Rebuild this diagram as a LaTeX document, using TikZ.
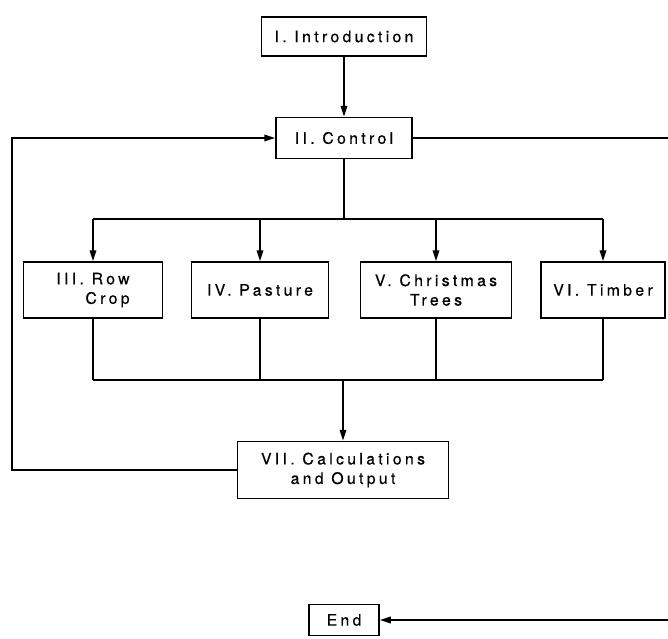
\documentclass[tikz,border=0pt]{standalone}
\usepackage{fontspec}
\setmainfont{TeX Gyre Heros}[LetterSpace=21,FakeBold=0.5]
\usetikzlibrary{arrows.meta}
\begin{document}
\begin{tikzpicture}[x=1pt,y=1pt,
  box/.style={draw,line width=1.5pt,inner sep=0pt,font=\fontsize{15.8}{19.5}\selectfont,align=center},
  conn/.style={line width=2pt},
  arr/.style={conn,-{Triangle[length=11pt,width=6.5pt]}}]
\useasboundingbox (0,0) rectangle (668,-638);
\node[box,minimum width=165pt,minimum height=39pt] (intro) at (344,-36.5) {I. Introduction};
\node[box,minimum width=136pt,minimum height=41pt] (ctrl) at (344,-138) {II. Control};
\node[box,minimum width=139pt,minimum height=56pt,align=right] (row) at (93,-290) {III. Row\\Crop};
\node[box,minimum width=137pt,minimum height=56pt] (past) at (260,-290) {IV. Pasture};
\node[box,minimum width=151pt,minimum height=56pt] (xmas) at (436,-290) {V. Christmas\\Trees};
\node[box,minimum width=124pt,minimum height=56pt] (timb) at (603,-290) {VI. Timber};
\node[box,minimum width=211pt,minimum height=57pt] (calc) at (343,-470) {VII. Calculations\\and Output};
\node[box,minimum width=70pt,minimum height=31pt] (end) at (344,-620) {End};
\coordinate (bt) at (344,-219);
\coordinate (bb) at (343,-380);
\coordinate (lx) at (12,0);
\coordinate (rtop) at (668,-138);
\coordinate (rbot) at (668,-620);
\draw[arr] (intro) -- (ctrl);
\draw[conn] (ctrl.south) -- (bt);
\draw[conn] (row.north |- bt) -- (timb.north |- bt);
\foreach \b in {row,past,xmas,timb}{
  \draw[arr] (\b.north |- bt) -- (\b.north);
  \draw[conn] (\b.south) -- (\b.south |- bb);
}
\draw[conn] (row.south |- bb) -- (timb.south |- bb);
\draw[arr] (calc.north |- bb) -- (calc.north);
\draw[arr] (calc.west) -- (calc.west -| lx) -- (ctrl.west -| lx) -- (ctrl.west);
\draw[conn] (ctrl.east) -- (rtop);
\draw[arr] (rbot) -- (end.east);
\end{tikzpicture}
\end{document}
